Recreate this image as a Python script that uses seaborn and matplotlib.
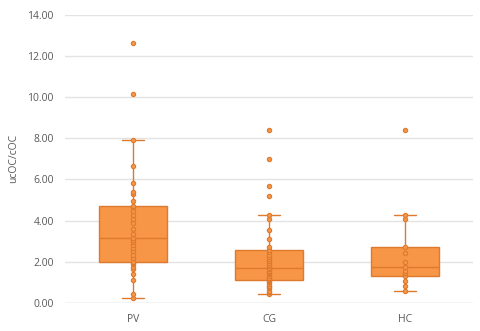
import pandas as pd
import matplotlib.pyplot as plt
import seaborn as sns

# values
groups = ["PV", "CG", "HC"]
pv_values = [0.23, 0.42, 1.09, 1.40, 1.64, 1.75, 1.88, 1.93, 1.98,
             2.17, 2.33, 2.50, 2.66, 2.80, 2.95, 3.05, 3.13,
             3.37, 3.60, 3.86, 4.07, 4.28, 4.45, 4.65, 4.73,
             4.96, 5.28, 5.41, 5.82, 6.66, 7.91, 10.14, 12.65]
cg_values = [0.42, 0.53, 0.60, 0.70, 0.78, 0.84, 0.92, 1.00, 1.05, 1.09,
             1.15, 1.22, 1.30, 1.39, 1.45, 1.52, 1.57, 1.65, 1.70,
             1.77, 1.85, 1.93, 2.05, 2.15, 2.25, 2.35, 2.45, 2.59,
             2.72, 3.10, 3.55, 4.10, 4.29, 5.19, 5.66, 6.97, 8.39]
hc_values = [0.60, 0.83, 1.07, 1.33, 1.45, 1.57, 1.75, 1.99, 2.43, 2.74,
             4.08, 4.28, 8.39]
y_ticks = [0, 2, 4, 6, 8, 10, 12, 14]

df = pd.DataFrame({
    "group": ["PV"] * len(pv_values) + ["CG"] * len(cg_values) + ["HC"] * len(hc_values),
    "value": pv_values + cg_values + hc_values,
})

sns.set_style("white")
plt.rcParams["font.family"] = ["Open Sans", "DejaVu Sans"]

fill = "#F79646"
edge = "#DE7A2E"

fig = plt.figure(figsize=(4.81, 3.31), dpi=100)
ax = fig.add_axes([0.135, 0.085, 0.848, 0.87])

sns.boxplot(data=df, x="group", y="value", order=groups, width=0.5,
            color=fill, saturation=1, showfliers=False, whis=1.5,
            boxprops=dict(facecolor=fill, edgecolor=edge, linewidth=1),
            medianprops=dict(color=edge, linewidth=1),
            whiskerprops=dict(color=edge, linewidth=1),
            capprops=dict(color=edge, linewidth=1),
            ax=ax)

# narrower whisker caps, like the Excel chart
for cont in ax.containers:
    for cap in getattr(cont, "caps", []):
        xs = cap.get_xdata()
        mid = (xs[0] + xs[-1]) / 2
        cap.set_xdata([mid - 0.08, mid + 0.08])

sns.stripplot(data=df, x="group", y="value", order=groups, jitter=False,
              color=fill, edgecolor=edge, linewidth=0.8, size=3.1, ax=ax, zorder=3)

ax.set_ylim(0, 14)
ax.set_xlim(-0.5, 2.5)
ax.set_yticks(y_ticks)
ax.set_yticklabels([f"{t:.2f}" for t in y_ticks])
ax.yaxis.grid(True, color="#E3E3E3", linewidth=1)
ax.set_axisbelow(True)
for s in ax.spines.values():
    s.set_visible(False)
ax.axhline(0, color="#E3E3E3", linewidth=1, zorder=0)
ax.tick_params(axis="both", length=0, labelsize=7.5, colors="#595959", pad=8)
ax.set_xlabel("")
ax.set_ylabel("ucOC/cOC", fontsize=7.5, color="#595959", labelpad=6)

plt.savefig("out.png", dpi=100)
